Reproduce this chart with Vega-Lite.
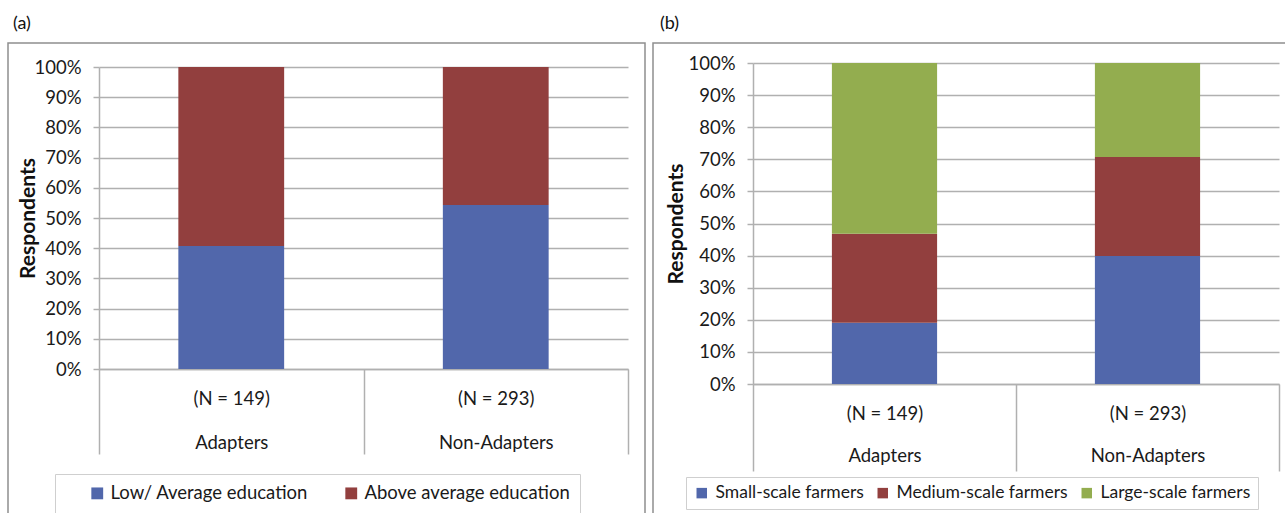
{
  "$schema": "https://vega.github.io/schema/vega-lite/v6.json",
  "padding": {"left": 7, "top": 14, "right": 0, "bottom": 0},
  "spacing": 6,
  "resolve": {"scale": {"color": "independent"}, "legend": {"color": "independent"}},
  "config": {
    "font": "Lato",
    "view": {"stroke": "#8f8f8f", "strokeWidth": 1.5},
    "title": {"anchor": "start", "fontSize": 18, "fontWeight": "normal", "color": "#111111", "offset": 10, "frame": "group"},
    "axis": {"labelColor": "#1a1a1a", "labelFontSize": 18.5, "titleColor": "#111111", "labelOverlap": false}
  },
  "datasets": {
    "education": [
      {"group": "(N = 149)|Adapters", "education": "Low/ Average education", "share": 0.407},
      {"group": "(N = 149)|Adapters", "education": "Above average education", "share": 0.593},
      {"group": "(N = 293)|Non-Adapters", "education": "Low/ Average education", "share": 0.543},
      {"group": "(N = 293)|Non-Adapters", "education": "Above average education", "share": 0.457}
    ],
    "farm": [
      {"group": "(N = 149)|Adapters", "scale": "Small-scale farmers", "share": 0.191},
      {"group": "(N = 149)|Adapters", "scale": "Medium-scale farmers", "share": 0.277},
      {"group": "(N = 149)|Adapters", "scale": "Large-scale farmers", "share": 0.532},
      {"group": "(N = 293)|Non-Adapters", "scale": "Small-scale farmers", "share": 0.399},
      {"group": "(N = 293)|Non-Adapters", "scale": "Medium-scale farmers", "share": 0.308},
      {"group": "(N = 293)|Non-Adapters", "scale": "Large-scale farmers", "share": 0.293}
    ]
  },
  "hconcat": [
    {
      "title": {"text": "(a)", "dx": 5},
      "width": 637,
      "height": 471,
      "data": {"name": "education"},
      "mark": {"type": "bar", "width": {"band": 0.4}},
      "encoding": {
        "x": {
          "field": "group", "type": "nominal", "sort": null,
          "scale": {"range": [91, 620], "paddingInner": 0, "paddingOuter": 0},
          "axis": {"title": null, "labelExpr": "split(datum.label, '|')", "labelAngle": 0, "offset": -145,
            "domainColor": "#b0b0b0", "tickColor": "#b0b0b0", "tickWidth": 1.5, "domainWidth": 1.6, "tickBand": "extent", "tickSize": 85,
            "labelPadding": -65, "labelLineHeight": 44, "labelBaseline": "top"}
        },
        "y": {
          "field": "share", "type": "quantitative", "stack": "zero",
          "scale": {"domain": [0, 1], "range": [326, 24], "nice": false},
          "axis": {"title": "Respondents", "format": ".0%", "values": [0, 0.1, 0.2, 0.3, 0.4, 0.5, 0.6, 0.7, 0.8, 0.9, 1],
            "offset": -91, "grid": true, "gridColor": "#b0b0b0", "gridWidth": 1.6, "domainColor": "#b0b0b0", "domainWidth": 1.5,
            "tickColor": "#b0b0b0", "tickWidth": 1.5,
            "tickSize": 6, "labelPadding": 12, "titleFontSize": 21, "titleFontWeight": "bold", "titleX": -61}
        },
        "color": {
          "field": "education", "type": "nominal",
          "sort": ["Low/ Average education", "Above average education"],
          "scale": {"domain": ["Low/ Average education", "Above average education"], "range": ["#5167ab", "#923f3e"]},
          "legend": {"title": " ", "titleOrient": "left", "titlePadding": 23, "titleFontSize": 18,
            "orient": "none", "legendX": 47, "legendY": 431, "direction": "horizontal",
            "symbolType": "square", "symbolSize": 140, "symbolStrokeWidth": 0, "labelFontSize": 18.5, "labelColor": "#1a1a1a",
            "labelLimit": 400, "labelOffset": 4, "strokeColor": "#cfcfcf", "padding": 10, "columnPadding": 34}
        }
      }
    },
    {
      "title": {"text": "(b)", "dx": 7},
      "width": 634,
      "height": 471,
      "data": {"name": "farm"},
      "mark": {"type": "bar", "width": {"band": 0.4}},
      "encoding": {
        "x": {
          "field": "group", "type": "nominal", "sort": null,
          "scale": {"range": [100, 626], "paddingInner": 0, "paddingOuter": 0},
          "axis": {"title": null, "labelExpr": "split(datum.label, '|')", "labelAngle": 0, "offset": -130,
            "domainColor": "#b0b0b0", "tickColor": "#b0b0b0", "tickWidth": 1.5, "domainWidth": 1.6, "tickBand": "extent", "tickSize": 87,
            "labelPadding": -67, "labelLineHeight": 42, "labelBaseline": "top"}
        },
        "y": {
          "field": "share", "type": "quantitative", "stack": "zero",
          "scale": {"domain": [0, 1], "range": [341, 20], "nice": false},
          "axis": {"title": "Respondents", "format": ".0%", "values": [0, 0.1, 0.2, 0.3, 0.4, 0.5, 0.6, 0.7, 0.8, 0.9, 1],
            "offset": -100, "grid": true, "gridColor": "#b0b0b0", "gridWidth": 1.6, "domainColor": "#b0b0b0", "domainWidth": 1.5,
            "tickColor": "#b0b0b0", "tickWidth": 1.5,
            "tickSize": 6, "labelPadding": 12, "titleFontSize": 21, "titleFontWeight": "bold", "titleX": -67}
        },
        "color": {
          "field": "scale", "type": "nominal",
          "sort": ["Small-scale farmers", "Medium-scale farmers", "Large-scale farmers"],
          "scale": {"domain": ["Small-scale farmers", "Medium-scale farmers", "Large-scale farmers"], "range": ["#5167ab", "#923f3e", "#93ad4f"]},
          "legend": {"title": null, "orient": "none", "legendX": 33, "legendY": 434, "direction": "horizontal",
            "symbolType": "square", "symbolSize": 110, "symbolStrokeWidth": 0, "labelFontSize": 17.5, "labelColor": "#1a1a1a",
            "labelLimit": 400, "labelOffset": 5, "strokeColor": "#cfcfcf", "padding": 7, "columnPadding": 10}
        }
      }
    }
  ]
}
